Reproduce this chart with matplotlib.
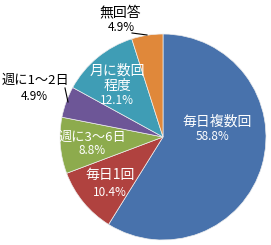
import matplotlib
matplotlib.use('Agg')
import matplotlib.pyplot as plt

plt.rcParams['font.family'] = ['Noto Sans CJK JP', 'DejaVu Sans']

# data
categories = ['毎日複数回', '毎日1回', '週に3～6日', '週に1～2日', '月に数回\n程度', '無回答']
shares = [58.8, 10.4, 8.8, 4.9, 12.1, 4.9]
colors = ['#4872ac', '#b0423f', '#8dab4d', '#6d5697', '#3f9db5', '#e0883a']

W, H = 271, 245
fig = plt.figure(figsize=(W / 100, H / 100), dpi=100)
ax = fig.add_axes([0, 0, 1, 1])


def py(y):
    # pixel row (from top) -> data y
    return H - y


ax.pie(shares, colors=colors, startangle=90, counterclock=False,
       center=(163, py(137)), radius=103, frame=True,
       wedgeprops=dict(edgecolor='#eeeeee', linewidth=0.5))
ax.set_xlim(0, W)
ax.set_ylim(0, H)
ax.set_aspect('equal')
ax.axis('off')

# label placement (pixel positions of name / percentage), text colour, name size
label_pos = [
    ((217, 122), (213, 137), 'white', 10),
    ((110, 175), (110, 192), 'white', 10),
    ((92, 137), (92, 151), 'white', 9.5),
    ((35, 80), (34, 97), 'black', 9.5),
    ((117, 78), (117, 101), 'white', 10),
    ((120, 12), (121, 28), 'black', 10),
]

for name, val, (p1, p2, c, fs) in zip(categories, shares, label_pos):
    ax.text(p1[0], py(p1[1]), name, ha='center', va='center', color=c,
            fontsize=fs, linespacing=1.1)
    ax.text(p2[0], py(p2[1]), f'{val}%', ha='center', va='center', color=c,
            fontsize=8.5)

# leader lines for the outside labels
ax.plot([132, 147], [py(33), py(35)], color='black', lw=0.8)
ax.plot([65, 68], [py(88), py(102)], color='black', lw=0.8)

fig.savefig('out.png', dpi=100, facecolor='white')
